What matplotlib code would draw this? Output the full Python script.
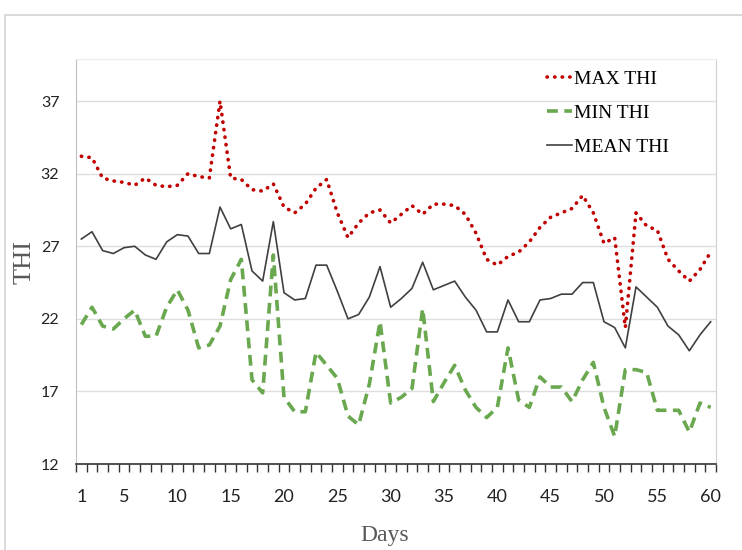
import matplotlib
matplotlib.use("Agg")
import matplotlib.pyplot as plt
from matplotlib.patches import Rectangle
import numpy as np

days = np.arange(1, 61)

max_thi = [33.2, 33.1, 31.7, 31.5, 31.4, 31.2, 31.7, 31.2, 31.1, 31.2,
           32.0, 31.8, 31.7, 37.0, 31.7, 31.6, 30.9, 30.8, 31.3, 29.7,
           29.3, 29.9, 31.0, 31.6, 29.3, 27.6, 28.6, 29.3, 29.5, 28.6,
           29.2, 29.8, 29.2, 29.9, 29.9, 29.8, 29.2, 27.9, 26.1, 25.7,
           26.3, 26.6, 27.3, 28.3, 29.0, 29.3, 29.6, 30.5, 29.3, 27.2,
           27.6, 21.4, 29.3, 28.4, 28.1, 26.1, 25.3, 24.6, 25.4, 26.6]

min_thi = [21.6, 22.8, 21.5, 21.3, 22.0, 22.6, 20.8, 20.8, 22.8, 24.0,
           22.6, 20.0, 20.2, 21.5, 24.7, 26.1, 17.8, 16.9, 26.4, 16.6,
           15.6, 15.6, 19.7, 18.8, 17.9, 15.3, 14.7, 17.5, 21.8, 16.2,
           16.6, 17.2, 22.7, 16.3, 17.6, 18.8, 17.1, 15.9, 15.2, 15.9,
           20.0, 16.4, 15.9, 18.0, 17.3, 17.3, 16.3, 17.8, 19.0, 15.9,
           13.9, 18.5, 18.5, 18.3, 15.7, 15.7, 15.7, 14.2, 16.2, 15.9]

mean_thi = [27.5, 28.0, 26.7, 26.5, 26.9, 27.0, 26.4, 26.1, 27.3, 27.8,
            27.7, 26.5, 26.5, 29.7, 28.2, 28.5, 25.3, 24.6, 28.7, 23.8,
            23.3, 23.4, 25.7, 25.7, 23.9, 22.0, 22.3, 23.5, 25.6, 22.8,
            23.4, 24.1, 25.9, 24.0, 24.3, 24.6, 23.5, 22.6, 21.1, 21.1,
            23.3, 21.8, 21.8, 23.3, 23.4, 23.7, 23.7, 24.5, 24.5, 21.8,
            21.4, 20.0, 24.2, 23.5, 22.8, 21.5, 20.9, 19.8, 20.9, 21.8]

y_ticks = [12, 17, 22, 27, 32, 37]
x_tick_labels = [1, 5, 10, 15, 20, 25, 30, 35, 40, 45, 50, 55, 60]

fig = plt.figure(figsize=(7.42, 5.5), dpi=100)
ax = fig.add_axes([76 / 742, 1 - 464 / 550, 640 / 742, 405 / 550])

# outer frame of the original figure box
fig.patches.append(Rectangle((5 / 742, -0.1), 1.2, 1 - 15 / 550 + 0.1,
                             transform=fig.transFigure, fill=False,
                             edgecolor="#d4d4d4", linewidth=1.2))

ax.plot(days, max_thi, color="#c00000", linestyle=(0, (0.1, 2.0)),
        linewidth=2.6, dash_capstyle="round", label="MAX THI")
ax.plot(days, min_thi, color="#6aa84f", linestyle=(0, (3, 1.8)),
        linewidth=2.6, label="MIN THI")
ax.plot(days, mean_thi, color="#404040", linewidth=1.2, label="MEAN THI")

ax.set_xlim(0.5, 60.5)
ax.set_ylim(12, 39.9)

ax.set_yticks(y_ticks)
ax.set_xticks(x_tick_labels)
ax.set_xticks(np.arange(0.5, 61, 1), minor=True)
ax.tick_params(axis="x", which="major", length=0, pad=18, labelsize=13,
               labelcolor="#222222")
ax.tick_params(axis="x", which="minor", length=6, width=1, color="#333333",
               direction="out")
ax.tick_params(axis="y", length=0, pad=12, labelsize=11.5, labelcolor="#222222")
for lab in ax.get_xticklabels() + ax.get_yticklabels():
    lab.set_family("Lato")

ax.grid(axis="y", color="#dedede", linewidth=1)
ax.set_axisbelow(True)

ax.spines["left"].set_color("#bfbfbf")
ax.spines["bottom"].set_color("#333333")
ax.spines["bottom"].set_linewidth(1.2)
ax.spines["right"].set_color("#d0d0d0")
ax.spines["top"].set_color("#ececec")

ax.set_xlabel("Days", family="Liberation Serif", fontsize=17, color="#595959")
ax.xaxis.set_label_coords((385 - 76) / 640, (464 - 535) / 405)
ax.xaxis.label.set_va("center")
ax.set_ylabel("THI", family="Liberation Serif", fontsize=19, color="#595959")
ax.yaxis.set_label_coords((25 - 76) / 640, (464 - 262) / 405)
ax.yaxis.label.set_va("center")

leg = fig.legend(loc="upper left", bbox_to_anchor=(547 / 742, 1 - 70 / 550),
                 frameon=False, borderpad=0, borderaxespad=0,
                 handlelength=1.3, handletextpad=0.1, labelspacing=0.85,
                 prop={"family": "Liberation Serif", "size": 14})

fig.savefig("out.png", dpi=100)
